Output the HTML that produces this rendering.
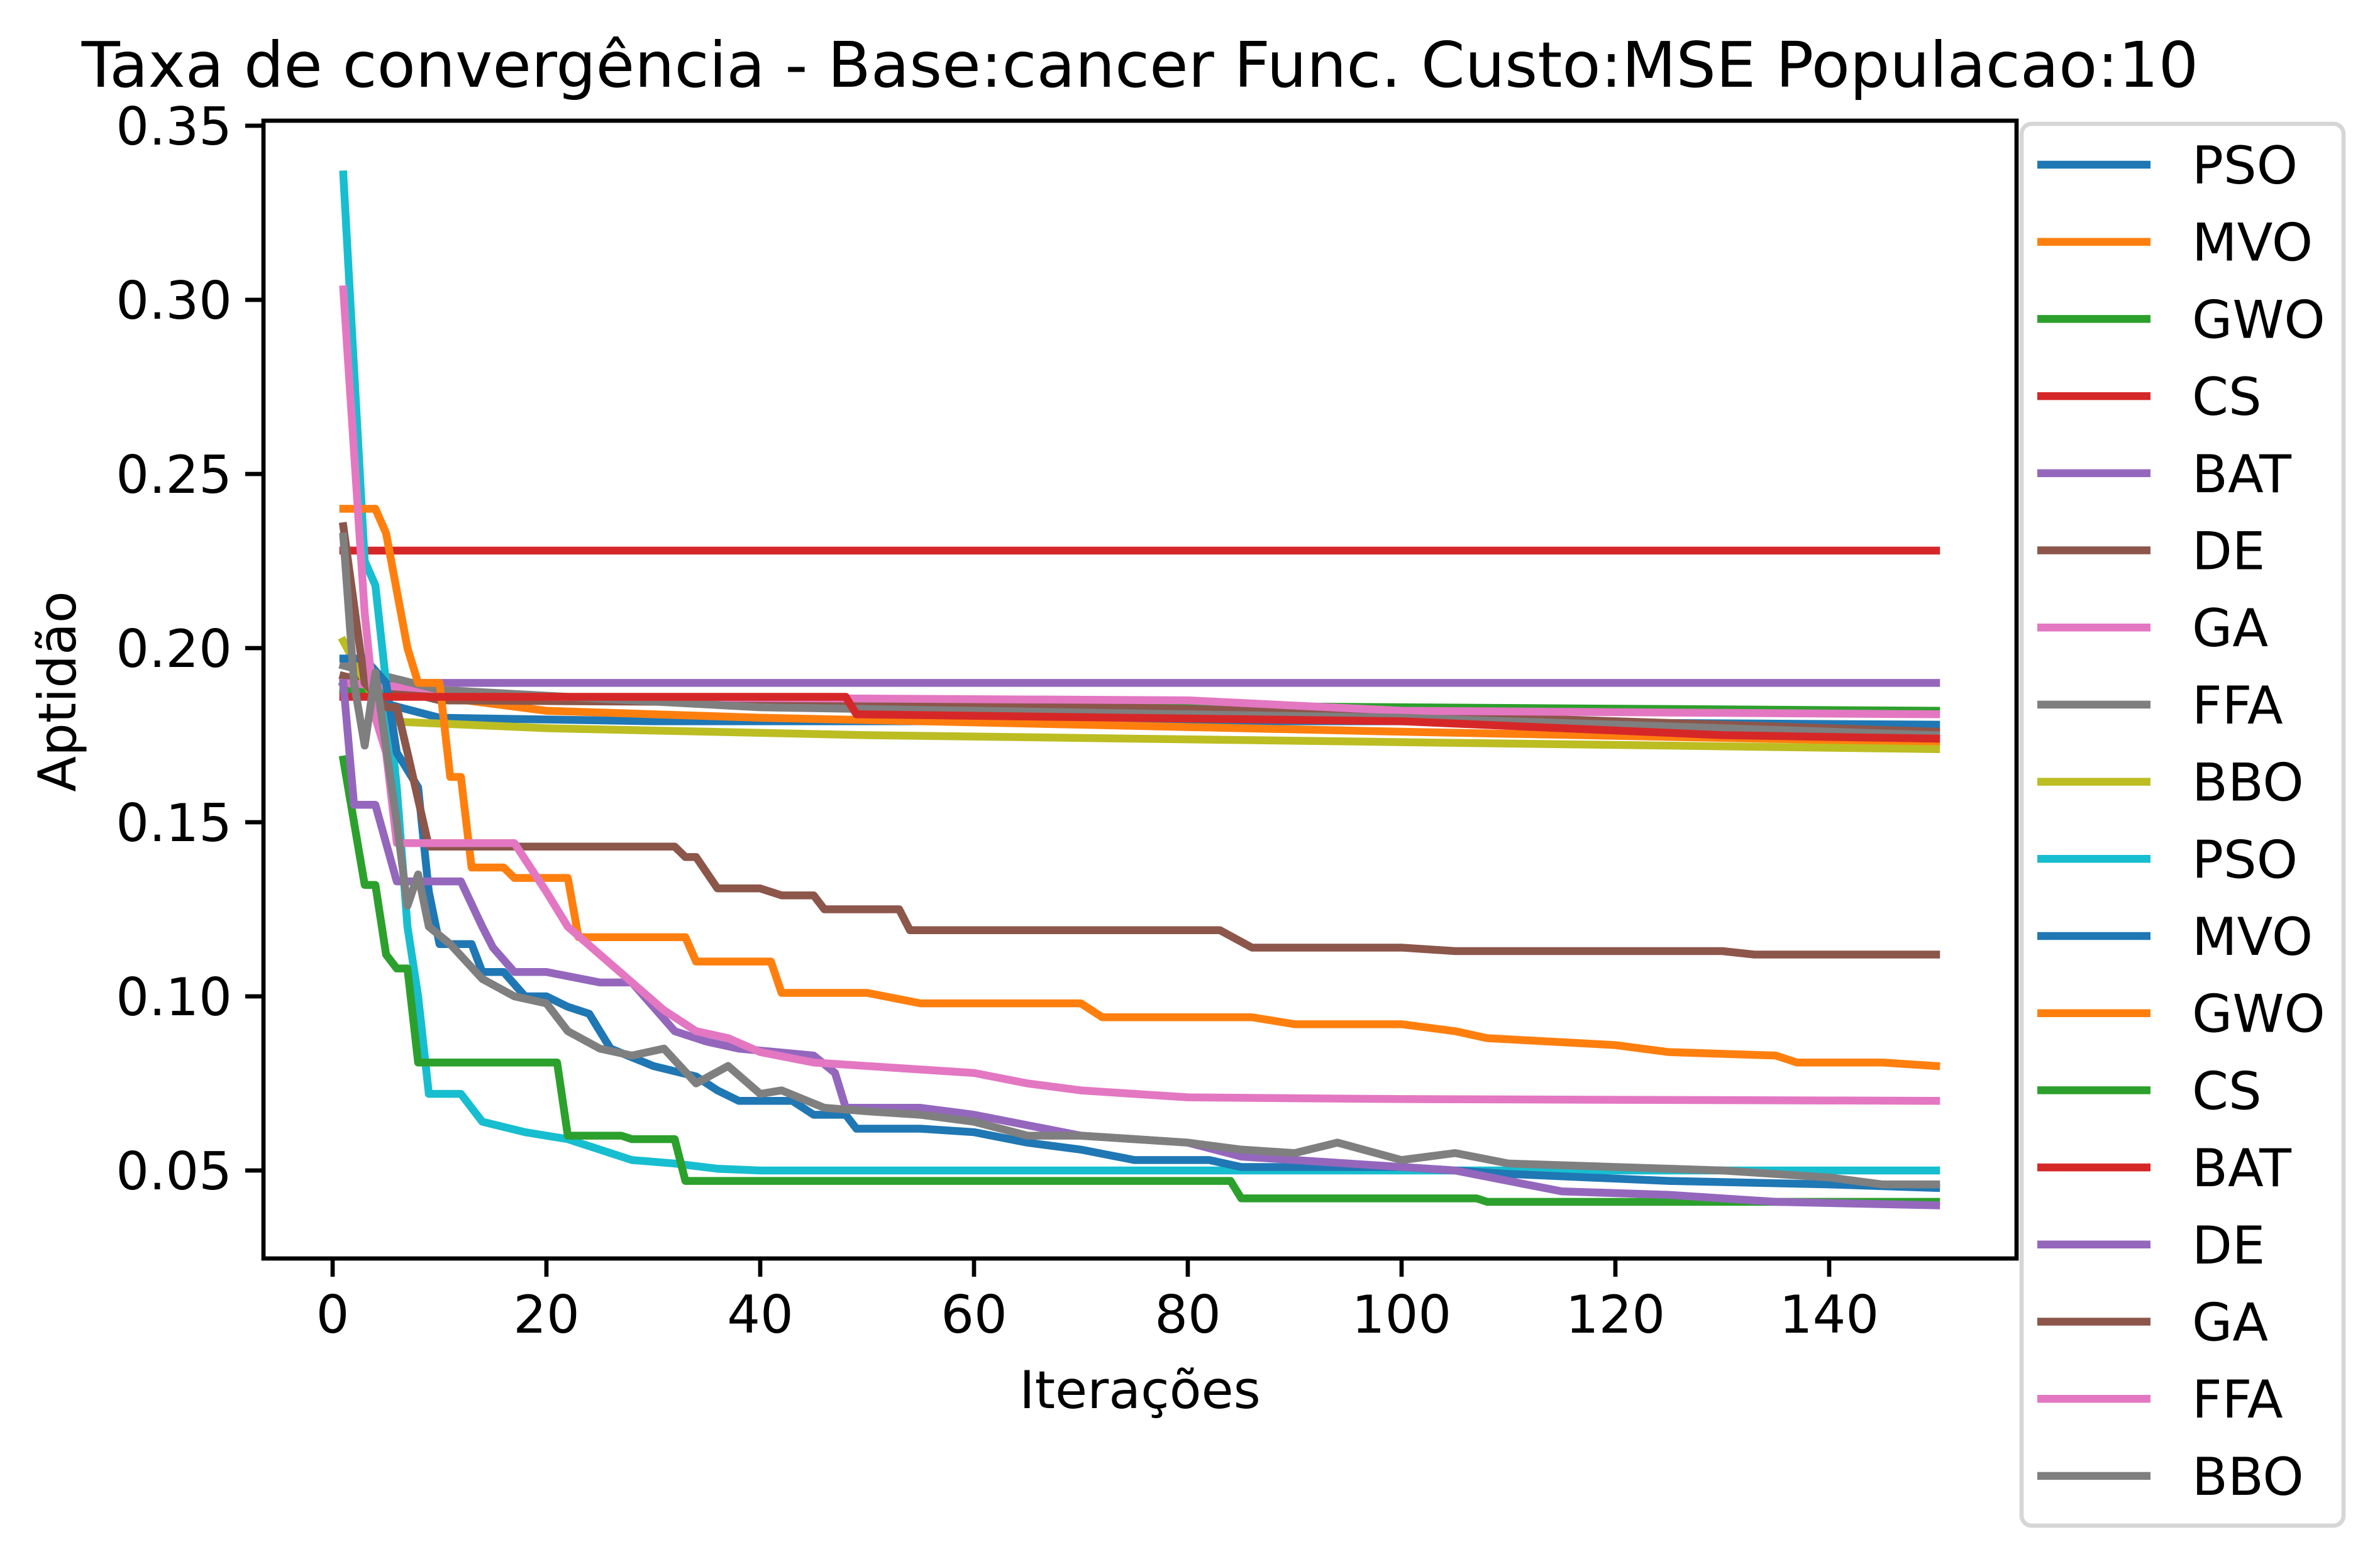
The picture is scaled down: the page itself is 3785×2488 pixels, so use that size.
<!DOCTYPE html>
<html><head><meta charset="utf-8"><style>
html,body{margin:0;padding:0;background:#fff}
svg{display:block;font-family:"DejaVu Sans","Liberation Sans",sans-serif}
</style></head><body>
<svg id="chart" width="3785" height="2488" viewBox="0 0 3785 2488" xmlns="http://www.w3.org/2000/svg">
<rect width="3785" height="2488" fill="#fff"/>
<text x="1813" y="138" font-size="100" text-anchor="middle">Taxa de convergência - Base:cancer Func. Custo:MSE Populacao:10</text>
<text x="1813" y="2240" font-size="83" text-anchor="middle">Iterações</text>
<text transform="translate(120,1100) rotate(-90)" font-size="83" text-anchor="middle">Aptidão</text>
<g id="plot"></g>
<g id="axes"></g>
<g id="legend"></g>
</svg>
<script>
const seriesNames = ["PSO","MVO","GWO","CS","BAT","DE","GA","FFA","BBO","PSO","MVO","GWO","CS","BAT","DE","GA","FFA","BBO"];
const seriesColors = ["#1f77b4","#ff7f0e","#2ca02c","#d62728","#9467bd","#8c564b","#e377c2","#7f7f7f","#bcbd22","#17becf","#1f77b4","#ff7f0e","#2ca02c","#d62728","#9467bd","#8c564b","#e377c2","#7f7f7f"];
const xTicks = [0,20,40,60,80,100,120,140];
const yTicks = [0.05,0.10,0.15,0.20,0.25,0.30,0.35];
const yTickLabels = ["0.05","0.10","0.15","0.20","0.25","0.30","0.35"];
const s1 = [[1,0.190],[5,0.184],[10,0.180],[30,0.179],[100,0.179],[150,0.178]];
const s2 = [[1,0.190],[10,0.186],[20,0.182],[40,0.180],[100,0.176],[150,0.173]];
const s3 = [[1,0.188],[20,0.185],[100,0.183],[150,0.182]];
const s4 = [[1,0.228],[150,0.228]];
const s5 = [[1,0.190],[150,0.190]];
const s6 = [[1,0.192],[10,0.185],[60,0.184],[100,0.181],[150,0.176]];
const s7 = [[1,0.190],[20,0.186],[80,0.185],[100,0.182],[150,0.181]];
const s8 = [[1,0.195],[10,0.188],[40,0.183],[100,0.180],[150,0.175]];
const s9 = [[1,0.202],[5,0.179],[20,0.177],[50,0.175],[100,0.173],[150,0.171]];
const s10 = [[1,0.336],[3,0.225],[4,0.218],[5,0.19],[6,0.16],[7,0.12],[8,0.1],[9,0.072],[12,0.072],[14,0.064],[18,0.061],[22,0.059],[25,0.056],[28,0.053],[32,0.052],[36,0.0505],[40,0.050],[150,0.050]];
const s11 = [[1,0.197],[3,0.197],[5,0.19],[6,0.17],[8,0.16],[9,0.13],[10,0.115],[13,0.115],[14,0.107],[16,0.107],[18,0.1],[20,0.1],[22,0.097],[24,0.095],[26,0.085],[30,0.08],[34,0.077],[36,0.073],[38,0.07],[43,0.07],[45,0.066],[48,0.066],[49,0.062],[55,0.062],[60,0.061],[65,0.058],[70,0.056],[75,0.053],[82,0.053],[85,0.051],[100,0.051],[110,0.049],[125,0.047],[140,0.046],[150,0.045]];
const s12 = [[1,0.24],[4,0.24],[5,0.233],[7,0.2],[8,0.19],[10,0.19],[11,0.163],[12,0.163],[13,0.137],[16,0.137],[17,0.134],[22,0.134],[23,0.117],[33,0.117],[34,0.11],[41,0.11],[42,0.101],[50,0.101],[55,0.098],[70,0.098],[72,0.094],[86,0.094],[90,0.092],[100,0.092],[105,0.09],[108,0.088],[120,0.086],[125,0.084],[135,0.083],[137,0.081],[145,0.081],[150,0.080]];
const s13 = [[1,0.168],[3,0.132],[4,0.132],[5,0.112],[6,0.108],[7,0.108],[8,0.081],[21,0.081],[22,0.06],[27,0.06],[28,0.059],[32,0.059],[33,0.047],[84,0.047],[85,0.042],[107,0.042],[108,0.041],[150,0.041]];
const s14 = [[1,0.186],[48,0.186],[49,0.181],[100,0.179],[130,0.175],[150,0.174]];
const s15 = [[1,0.19],[2,0.155],[4,0.155],[6,0.133],[12,0.133],[14,0.12],[15,0.114],[17,0.107],[20,0.107],[25,0.104],[28,0.104],[32,0.09],[35,0.087],[38,0.085],[45,0.083],[47,0.078],[48,0.068],[55,0.068],[60,0.066],[65,0.063],[70,0.06],[80,0.058],[85,0.054],[95,0.052],[105,0.05],[110,0.047],[115,0.044],[125,0.043],[135,0.041],[150,0.040]];
const s16 = [[1,0.235],[3,0.19],[5,0.183],[6,0.183],[7,0.17],[9,0.143],[32,0.143],[33,0.14],[34,0.14],[36,0.131],[40,0.131],[42,0.129],[45,0.129],[46,0.125],[53,0.125],[54,0.119],[83,0.119],[86,0.114],[100,0.114],[105,0.113],[130,0.113],[133,0.112],[150,0.112]];
const s17 = [[1,0.303],[3,0.21],[4,0.18],[5,0.17],[6,0.144],[17,0.144],[20,0.13],[22,0.12],[25,0.112],[28,0.104],[31,0.096],[34,0.09],[37,0.088],[40,0.084],[45,0.081],[50,0.08],[60,0.078],[65,0.075],[70,0.073],[80,0.071],[100,0.0705],[150,0.070]];
const s18 = [[1,0.232],[2,0.19],[3,0.172],[4,0.193],[6,0.15],[7,0.126],[8,0.135],[9,0.12],[11,0.115],[14,0.105],[17,0.1],[20,0.098],[22,0.09],[25,0.085],[28,0.083],[31,0.085],[34,0.075],[37,0.08],[40,0.072],[42,0.073],[46,0.068],[50,0.067],[55,0.066],[60,0.064],[65,0.06],[70,0.06],[80,0.058],[85,0.056],[90,0.055],[94,0.058],[100,0.053],[105,0.055],[110,0.052],[120,0.051],[130,0.05],[140,0.048],[145,0.046],[150,0.046]];
const allSeries = [s1,s2,s3,s4,s5,s6,s7,s8,s9,s10,s11,s12,s13,s14,s15,s16,s17,s18];

const NS = "http://www.w3.org/2000/svg";
const L = 419, R = 3207, T = 192, B = 2002;
function xs(i){ return 529 + i * 17; }
function ys(v){ return 1862 - (v - 0.05) / 0.05 * 277; }
function mk(tag, attrs, parent){ const e = document.createElementNS(NS, tag); for (const k in attrs) e.setAttribute(k, attrs[k]); parent.appendChild(e); return e; }

const plot = document.getElementById('plot');
allSeries.forEach((s, k) => {
  const p = mk('polyline', {points: s.map(d => xs(d[0]) + ',' + ys(d[1])).join(' '), fill: 'none', stroke: seriesColors[k], 'stroke-width': 12.5, 'stroke-linejoin': 'round', 'stroke-linecap': 'square'}, plot);
  
  
});

const axes = document.getElementById('axes');
const frame = mk('rect', {x: L, y: T, width: R - L, height: B - T, fill: 'none', stroke: '#000', 'stroke-width': 6.7}, axes);


xTicks.forEach(t => {
  const x = xs(t);
  const tk = mk('line', {x1: x, x2: x, y1: B, y2: B + 29, stroke: '#000', 'stroke-width': 6.7}, axes);
  
  
  const lb = mk('text', {x: x, y: B + 118, 'font-size': 83, 'text-anchor': 'middle'}, axes);
  lb.textContent = t;
  
  
});
yTicks.forEach((t, i) => {
  const y = ys(t);
  const tk = mk('line', {x1: L - 29, x2: L, y1: y, y2: y, stroke: '#000', 'stroke-width': 6.7}, axes);
  
  
  const lb = mk('text', {x: L - 50, y: y + 30, 'font-size': 83, 'text-anchor': 'end'}, axes);
  lb.textContent = yTickLabels[i];
  
  
});

const leg = document.getElementById('legend');
const box = mk('rect', {x: 3215, y: 197, width: 512, height: 2230, rx: 16, fill: '#fff', stroke: '#d6d6d6', 'stroke-width': 6.7}, leg);


seriesNames.forEach((n, k) => {
  const y = 262 + k * 122.7;
  const g = mk('g', {}, leg);
  
  
  mk('line', {x1: 3240, x2: 3420, y1: y, y2: y, stroke: seriesColors[k], 'stroke-width': 12.5}, g);
  const tx = mk('text', {x: 3486, y: y + 30, 'font-size': 83}, g);
  tx.textContent = n;
});
</script>
</body></html>
